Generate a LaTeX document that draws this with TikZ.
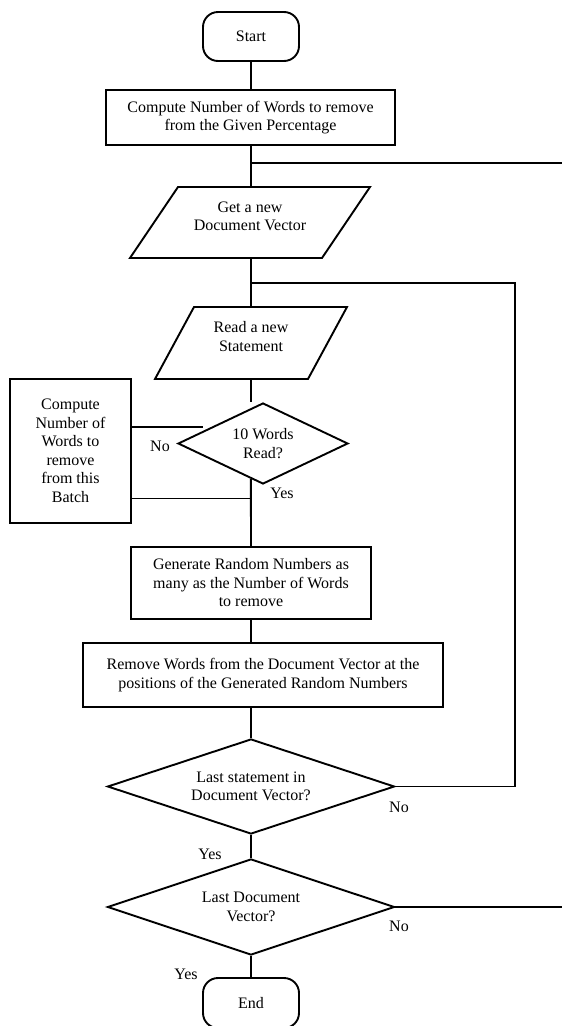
\documentclass[tikz,border=0pt]{standalone}
\usepackage{fontspec}
\setmainfont{Liberation Serif}
\usetikzlibrary{calc,shapes.geometric}
\begin{document}
\begin{tikzpicture}[x=1pt,y=-1pt,
  every node/.style={font=\rmfamily\fontsize{16}{18.5}\selectfont, inner sep=0pt},
  conn/.style={line width=1.9pt},
  box/.style={draw, line width=1.9pt, rectangle, align=center},
  term/.style={draw, line width=1.9pt, rounded corners=15pt, minimum width=96pt, minimum height=49pt},
  para/.style={line width=1.9pt, line join=miter},
  txt/.style={align=center},
  dec/.style={draw, diamond, line width=1.9pt, align=center},
  lbl/.style={}]
\useasboundingbox (0,0) rectangle (562,1026);

% terminals and boxes
\node[term] (start) at (251,36.5) {Start};
\node[box, minimum width=289pt, minimum height=55pt] (comp) at (250.5,117.5) {Compute Number of Words to remove\\from the Given Percentage};

% Get a new Document Vector (parallelogram)
\draw[para] (178,187) -- (370,187) -- (322,258) -- (130,258) -- cycle;
\node[txt] (gv) at (250,216.5) {Get a new\\Document Vector};
\coordinate (gvT) at (251,187);
\coordinate (gvB) at (251,258);

% Read a new Statement (parallelogram)
\draw[para] (194,307) -- (347,307) -- (308,379) -- (155,379) -- cycle;
\node[txt] (rd) at (251,336.5) {Read a new\\Statement};
\coordinate (rdT) at (251,307);
\coordinate (rdB) at (251,379);

\node[dec, aspect=2.1, minimum width=170pt, minimum height=81pt] (d1) at (263,443.5) {10 Words\\Read?};
\node[box, minimum width=121pt, minimum height=144pt] (batch) at (70.5,451) {Compute\\Number of\\Words to\\remove\\from this\\Batch};
\node[box, minimum width=240pt, minimum height=72pt] (gen) at (251,583) {Generate Random Numbers as\\many as the Number of Words\\to remove};
\node[box, minimum width=360pt, minimum height=64pt] (rem) at (263,675) {Remove Words from the Document Vector at the\\positions of the Generated Random Numbers};
\node[dec, aspect=3, minimum width=287pt, minimum height=95pt] (d2) at (251,786.5) {Last statement in\\Document Vector?};
\node[dec, aspect=3, minimum width=287pt, minimum height=96pt] (d3) at (251,907) {Last Document\\Vector?};
\node[term, minimum height=50pt] (end) at (251,1003) {End};

% junction coordinates
\coordinate (j1) at (251,163);
\coordinate (o1) at (562.6,163);
\coordinate (o2) at (562.6,907);
\coordinate (j2) at (251,283);
\coordinate (i1) at (515,283);
\coordinate (i2) at (515,786.5);
\coordinate (n1) at (203,427);
\coordinate (m1) at (251,498.5);

% connectors
\draw[conn] (start.south) -- (comp.north -| start.south);
\draw[conn] (comp.south -| start.south) -- (gvT);
\draw[conn] (j1) -- (o1) -- (o2) -- (d3.east);
\draw[conn] (gvB) -- (rdT);
\draw[conn] (j2) -- (i1) -- (i2) -- (d2.east);
\draw[conn] (rdB) -- (rdB |- d1.north);
\draw[conn] (batch.east |- n1) -- (n1);
\draw[conn] (batch.east |- m1) -- (m1);
\draw[conn] ($(d1.west)!0.859!(d1.south)$) -- (gen.north);
\draw[conn] (gen.south) -- (gen.south |- rem.north);
\draw[conn] (gen.south |- rem.south) -- (d2.north);
\draw[conn] (d2.south) -- (d3.north);
\draw[conn] (d3.south) -- (end.north);

% labels
\node[lbl] (no1) at (160,446) {No};
\node[lbl] (yes1) at (282,493) {Yes};
\node[lbl] (no2) at (399,807) {No};
\node[lbl] (yes2) at (210,854) {Yes};
\node[lbl] (no3) at (399,926) {No};
\node[lbl] (yes3) at (186,974) {Yes};
\end{tikzpicture}
\end{document}
